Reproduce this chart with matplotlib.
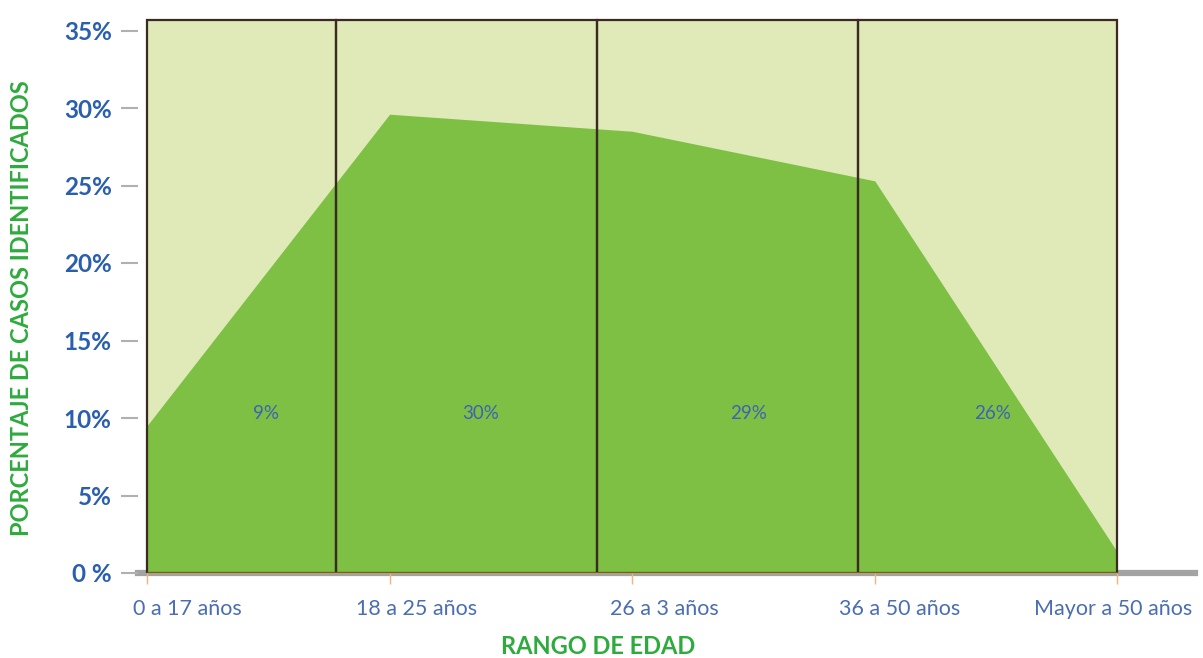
import matplotlib
matplotlib.use('Agg')
import matplotlib.pyplot as plt
import matplotlib.transforms as mtransforms
from matplotlib.patches import Rectangle

# data -------------------------------------------------------------------
categories = ['0 a 17 años', '18 a 25 años', '26 a 3 años', '36 a 50 años', 'Mayor a 50 años']
values = [9.5, 29.6, 28.5, 25.3, 1.35]
value_labels = ['9%', '30%', '29%', '26%']
y_ticks = [0, 5, 10, 15, 20, 25, 30, 35]
y_tick_labels = ['0 %', '5%', '10%', '15%', '20%', '25%', '30%', '35%']

# layout -------------------------------------------------------------------
band_edges = [0, 0.78, 1.856, 2.93, 4.0]
band_top = 35.7
value_label_x = [0.49, 1.377, 2.478, 3.485]
value_label_y = 10.3
cat_label_shift = [40, 27, 32, 25, -4]  # pixels

plt.rcParams['font.family'] = ['Lato', 'DejaVu Sans']

fig = plt.figure(figsize=(12.03, 6.58), dpi=100)
ax = fig.add_axes([138 / 1203, 85 / 658, (1195 - 138) / 1203, (573 - 15) / 658])

x = list(range(len(categories)))

# light bands (fill only)-------------------------------------------------------------------
for i in range(len(band_edges) - 1):
    ax.add_patch(Rectangle((band_edges[i], 0), band_edges[i + 1] - band_edges[i], band_top,
                           facecolor='#dfeab8', edgecolor='none', zorder=1))

# area -------------------------------------------------------------------
ax.fill_between(x, values, 0, color='#7dc044', linewidth=0, zorder=2)

# band outlines on top -------------------------------------------------------------------
for i in range(len(band_edges) - 1):
    ax.add_patch(Rectangle((band_edges[i], 0), band_edges[i + 1] - band_edges[i], band_top,
                           facecolor='none', edgecolor='#3b2a22', linewidth=1.6, zorder=3))

ax.plot([0, 4], [0, 0], color='#a5521f', linewidth=2, zorder=4, solid_capstyle='butt')

for lx, lab in zip(value_label_x, value_labels):
    ax.text(lx, value_label_y, lab, ha='center', va='center', fontsize=13.5,
            color='#3f63b3', zorder=5)

# axes -------------------------------------------------------------------
ax.set_xlim(-0.037, 4.32)
ax.set_ylim(0, 36)

for s in ['top', 'right', 'left']:
    ax.spines[s].set_visible(False)
ax.spines['bottom'].set_color('#a3a3a3')
ax.spines['bottom'].set_linewidth(4.5)
ax.spines['bottom'].set_zorder(0)

ax.set_yticks(y_ticks)
ax.set_yticklabels(y_tick_labels, fontsize=17.5, fontweight='bold', color='#2a5fae')
ax.tick_params(axis='y', length=12, width=1.5, color='#b0b0b0', pad=7)

ax.set_xticks(x)
ax.set_xticklabels(categories, fontsize=15.5, color='#4a6db4')
ax.tick_params(axis='x', length=8, width=1, color='#f5b27a', pad=11)
for lab, dx in zip(ax.get_xticklabels(), cat_label_shift):
    lab.set_transform(lab.get_transform() + mtransforms.ScaledTranslation(dx / 100, 0, fig.dpi_scale_trans))

fig.text(22 / 1203, 1 - 308 / 658, 'PORCENTAJE DE CASOS IDENTIFICADOS', rotation=90,
         ha='center', va='center', fontsize=17, fontweight='bold', color='#2eab3d')
fig.text(598 / 1203, 1 - 646 / 658, 'RANGO DE EDAD', ha='center', va='center',
         fontsize=17, fontweight='bold', color='#2eab3d')

fig.savefig('out.png', dpi=100)
